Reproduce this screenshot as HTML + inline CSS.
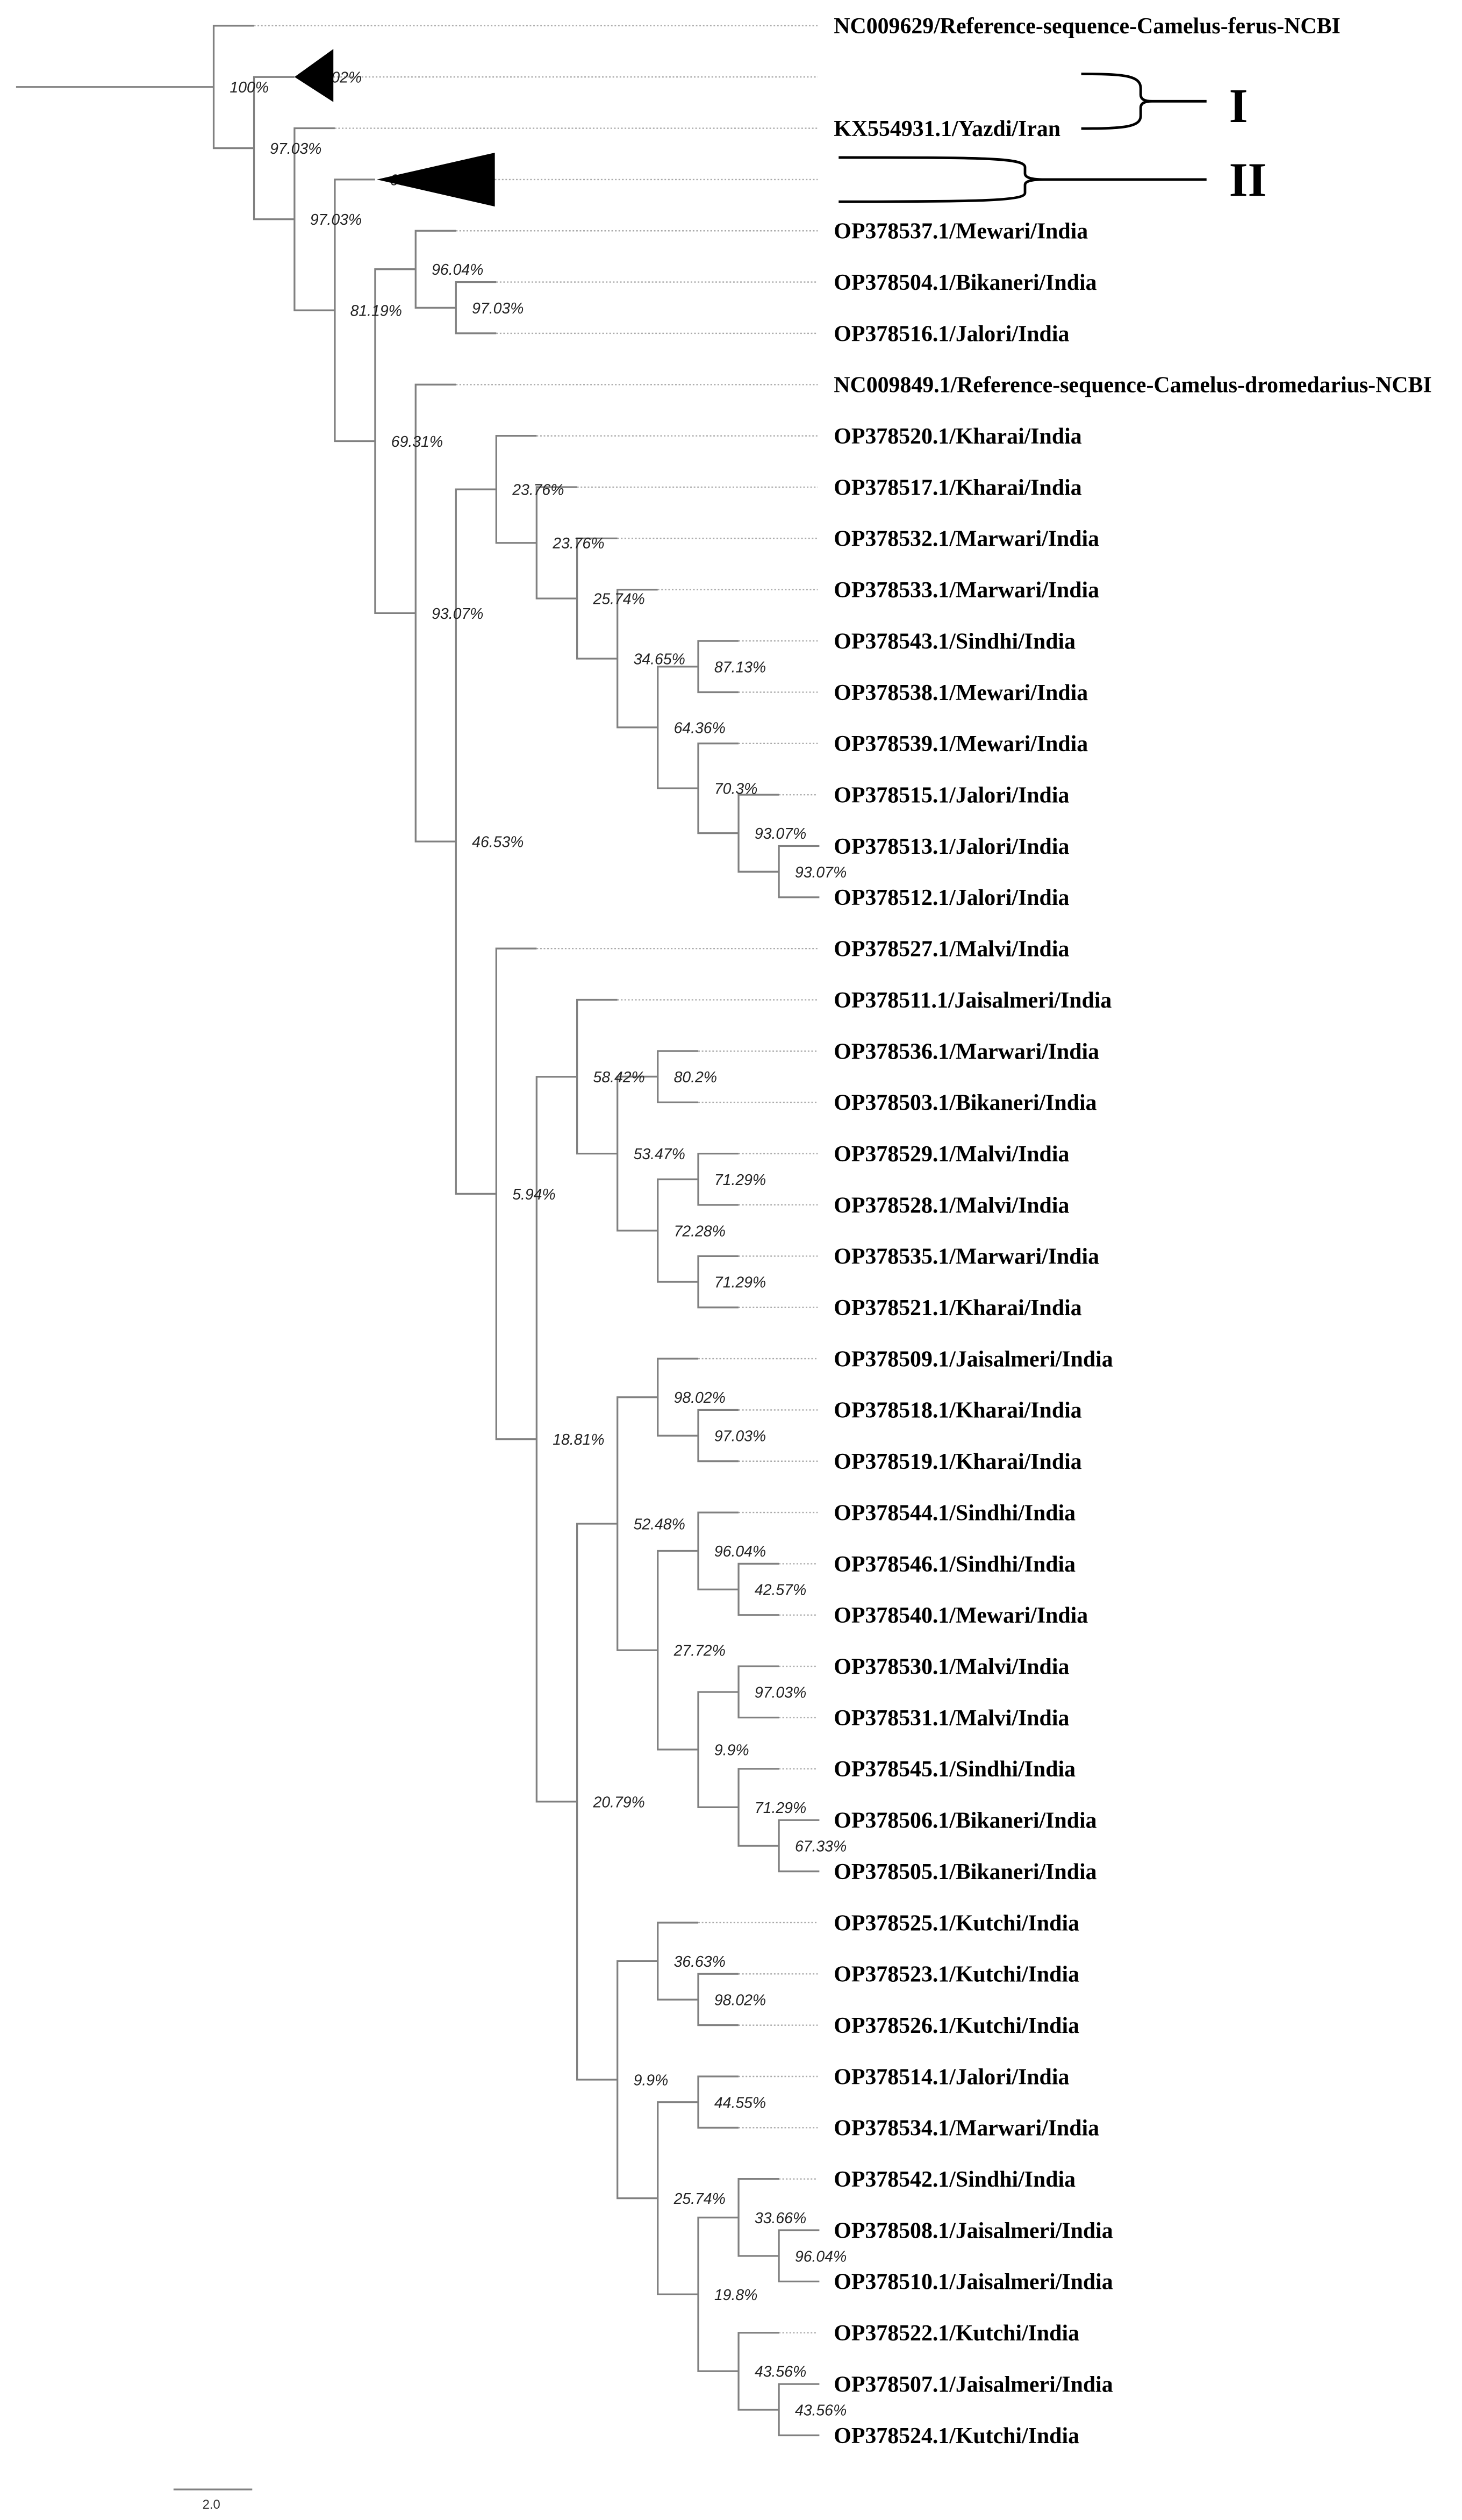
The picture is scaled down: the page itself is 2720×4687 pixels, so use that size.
<!DOCTYPE html>
<html><head><meta charset="utf-8"><style>
html,body{margin:0;padding:0;background:#fff;}
svg{display:block;}
.n{font-family:"Liberation Serif",serif;font-weight:bold;font-size:14px;fill:#000;}
.b{font-family:"Liberation Sans",sans-serif;font-style:italic;font-size:9.5px;fill:#222;}
</style></head><body>
<svg width="2720" height="4687" viewBox="0 0 910 1568" preserveAspectRatio="none" xmlns="http://www.w3.org/2000/svg">
<rect width="910" height="1568" fill="#fff"/>
<!-- dotted tips -->
<g stroke="#aaa" stroke-width="0.8" stroke-dasharray="1,1.2" fill="none">
<path d="M158.1 16H509M207.5 47.9H509M208.4 79.8H509M308 111.7H509M283.8 143.6H509M308.9 175.5H509M308.9 207.4H509M283.8 239.3H509M334 271.2H509M359.2 303.1H509M384.3 335H509M409.4 366.9H509M459.7 398.8H509M459.7 430.7H509M459.7 462.6H509M484.8 494.5H509M334 590.2H509M384.3 622.1H509M434.6 654H509M434.6 685.9H509M459.7 717.8H509M459.7 749.7H509M459.7 781.6H509M459.7 813.5H509M434.6 845.4H509M459.7 877.3H509M459.7 909.2H509M459.7 941.1H509M484.8 973H509M484.8 1004.9H509M484.8 1036.8H509M484.8 1068.7H509M484.8 1100.6H509M434.6 1196.3H509M459.7 1228.2H509M459.7 1260.1H509M459.7 1292H509M459.7 1323.9H509M484.8 1355.8H509M484.8 1451.5H509"/>
</g>
<!-- bootstrap labels under triangles -->
<text class="b" x="193" y="51.4">97.02%</text>
<text class="b" x="243" y="115.2">99%</text>
<!-- tree -->
<g stroke="#808080" stroke-width="1.1" fill="none">
<path d="M10 54.1H133
M158.1 16H133V92.2H158.1
M183.3 47.9H158.1V136.4H183.3
M208.4 79.8H183.3V193.1H208.4
M233.5 111.7H208.4V274.5H233.5
M258.7 167.5H233.5V381.5H258.7
M283.8 143.6H258.7V191.5H283.8
M308.9 175.5H283.8V207.4H308.9
M283.8 239.3H258.7V523.6H283.8
M308.9 304.5H283.8V742.8H308.9
M334 271.2H308.9V337.8H334
M359.2 303.1H334V372.4H359.2
M384.3 335H359.2V409.8H384.3
M409.4 366.9H384.3V452.6H409.4
M434.6 414.8H409.4V490.5H434.6
M459.7 398.8H434.6V430.7H459.7
M459.7 462.6H434.6V518.4H459.7
M484.8 494.5H459.7V542.4H484.8
M510 526.4H484.8V558.3H510
M334 590.2H308.9V895.5H334
M359.2 670H334V1121H359.2
M384.3 622.1H359.2V717.8H384.3
M409.4 669.9H384.3V765.7H409.4
M434.6 654H409.4V685.9H434.6
M434.6 733.8H409.4V797.6H434.6
M459.7 717.8H434.6V749.7H459.7
M459.7 781.6H434.6V813.5H459.7
M384.3 948.1H359.2V1294H384.3
M409.4 869.4H384.3V1026.8H409.4
M434.6 845.4H409.4V893.3H434.6
M459.7 877.3H434.6V909.2H459.7
M434.6 965H409.4V1088.6H434.6
M459.7 941.1H434.6V989H459.7
M484.8 973H459.7V1004.9H484.8
M459.7 1052.8H434.6V1124.5H459.7
M484.8 1036.8H459.7V1068.7H484.8
M484.8 1100.6H459.7V1148.5H484.8
M510 1132.5H484.8V1164.4H510
M409.4 1220.2H384.3V1367.8H409.4
M434.6 1196.3H409.4V1244.2H434.6
M459.7 1228.2H434.6V1260.1H459.7
M434.6 1308H409.4V1427.6H434.6
M459.7 1292H434.6V1323.9H459.7
M459.7 1379.8H434.6V1475.4H459.7
M484.8 1355.8H459.7V1403.7H484.8
M510 1387.7H484.8V1419.6H510
M484.8 1451.5H459.7V1499.4H484.8
M510 1483.4H484.8V1515.3H510
M108 1549H157"/>
</g>
<!-- collapsed triangles -->
<polygon points="183.3,47.9 207.5,30.5 207.5,63.5" fill="#000"/>
<polygon points="234.5,111.7 308,95 308,128.5" fill="#000"/>
<!-- bootstrap labels -->
<g class="b">
<text x="143" y="57.6">100%</text>
<text x="168" y="95.7">97.03%</text>
<text x="193" y="139.9">97.03%</text>
<text x="218" y="196.6">81.19%</text>
<text x="243.5" y="278">69.31%</text>
<text x="268.7" y="171">96.04%</text>
<text x="293.8" y="195">97.03%</text>
<text x="268.7" y="385">93.07%</text>
<text x="293.8" y="527.1">46.53%</text>
<text x="318.9" y="308">23.76%</text>
<text x="344" y="341.3">23.76%</text>
<text x="369.2" y="375.9">25.74%</text>
<text x="394.3" y="413.3">34.65%</text>
<text x="419.4" y="456.1">64.36%</text>
<text x="444.6" y="418.3">87.13%</text>
<text x="444.6" y="494">70.3%</text>
<text x="469.7" y="521.9">93.07%</text>
<text x="494.8" y="545.9">93.07%</text>
<text x="318.9" y="746.3">5.94%</text>
<text x="344" y="899">18.81%</text>
<text x="369.2" y="673.5">58.42%</text>
<text x="394.3" y="721.3">53.47%</text>
<text x="419.4" y="673.4">80.2%</text>
<text x="419.4" y="769.2">72.28%</text>
<text x="444.6" y="737.3">71.29%</text>
<text x="444.6" y="801.1">71.29%</text>
<text x="369.2" y="1124.5">20.79%</text>
<text x="394.3" y="951.6">52.48%</text>
<text x="419.4" y="872.9">98.02%</text>
<text x="444.6" y="896.8">97.03%</text>
<text x="419.4" y="1030.3">27.72%</text>
<text x="444.6" y="968.5">96.04%</text>
<text x="469.7" y="992.5">42.57%</text>
<text x="444.6" y="1092.1">9.9%</text>
<text x="469.7" y="1056.3">97.03%</text>
<text x="469.7" y="1128">71.29%</text>
<text x="494.8" y="1152">67.33%</text>
<text x="394.3" y="1297.5">9.9%</text>
<text x="419.4" y="1223.7">36.63%</text>
<text x="444.6" y="1247.7">98.02%</text>
<text x="419.4" y="1371.3">25.74%</text>
<text x="444.6" y="1311.5">44.55%</text>
<text x="444.6" y="1431.1">19.8%</text>
<text x="469.7" y="1383.3">33.66%</text>
<text x="494.8" y="1407.2">96.04%</text>
<text x="469.7" y="1478.9">43.56%</text>
<text x="494.8" y="1502.9">43.56%</text>
</g>
<!-- names -->
<g class="n">
<text x="519" y="20.8">NC009629/Reference-sequence-Camelus-ferus-NCBI</text>
<text x="519" y="84.6">KX554931.1/Yazdi/Iran</text>
<text x="519" y="148.4">OP378537.1/Mewari/India</text>
<text x="519" y="180.3">OP378504.1/Bikaneri/India</text>
<text x="519" y="212.2">OP378516.1/Jalori/India</text>
<text x="519" y="244.1">NC009849.1/Reference-sequence-Camelus-dromedarius-NCBI</text>
<text x="519" y="276">OP378520.1/Kharai/India</text>
<text x="519" y="307.9">OP378517.1/Kharai/India</text>
<text x="519" y="339.8">OP378532.1/Marwari/India</text>
<text x="519" y="371.7">OP378533.1/Marwari/India</text>
<text x="519" y="403.6">OP378543.1/Sindhi/India</text>
<text x="519" y="435.5">OP378538.1/Mewari/India</text>
<text x="519" y="467.4">OP378539.1/Mewari/India</text>
<text x="519" y="499.3">OP378515.1/Jalori/India</text>
<text x="519" y="531.2">OP378513.1/Jalori/India</text>
<text x="519" y="563.1">OP378512.1/Jalori/India</text>
<text x="519" y="595">OP378527.1/Malvi/India</text>
<text x="519" y="626.9">OP378511.1/Jaisalmeri/India</text>
<text x="519" y="658.8">OP378536.1/Marwari/India</text>
<text x="519" y="690.7">OP378503.1/Bikaneri/India</text>
<text x="519" y="722.6">OP378529.1/Malvi/India</text>
<text x="519" y="754.5">OP378528.1/Malvi/India</text>
<text x="519" y="786.4">OP378535.1/Marwari/India</text>
<text x="519" y="818.3">OP378521.1/Kharai/India</text>
<text x="519" y="850.2">OP378509.1/Jaisalmeri/India</text>
<text x="519" y="882.1">OP378518.1/Kharai/India</text>
<text x="519" y="914">OP378519.1/Kharai/India</text>
<text x="519" y="945.9">OP378544.1/Sindhi/India</text>
<text x="519" y="977.8">OP378546.1/Sindhi/India</text>
<text x="519" y="1009.7">OP378540.1/Mewari/India</text>
<text x="519" y="1041.6">OP378530.1/Malvi/India</text>
<text x="519" y="1073.5">OP378531.1/Malvi/India</text>
<text x="519" y="1105.4">OP378545.1/Sindhi/India</text>
<text x="519" y="1137.3">OP378506.1/Bikaneri/India</text>
<text x="519" y="1169.2">OP378505.1/Bikaneri/India</text>
<text x="519" y="1201.1">OP378525.1/Kutchi/India</text>
<text x="519" y="1233">OP378523.1/Kutchi/India</text>
<text x="519" y="1264.9">OP378526.1/Kutchi/India</text>
<text x="519" y="1296.8">OP378514.1/Jalori/India</text>
<text x="519" y="1328.7">OP378534.1/Marwari/India</text>
<text x="519" y="1360.6">OP378542.1/Sindhi/India</text>
<text x="519" y="1392.5">OP378508.1/Jaisalmeri/India</text>
<text x="519" y="1424.4">OP378510.1/Jaisalmeri/India</text>
<text x="519" y="1456.3">OP378522.1/Kutchi/India</text>
<text x="519" y="1488.2">OP378507.1/Jaisalmeri/India</text>
<text x="519" y="1520.1">OP378524.1/Kutchi/India</text>
</g>
<!-- brackets -->
<g stroke="#000" stroke-width="1.6" fill="none">
<path d="M673 46C700 46 710 47 710 55L710 59Q710 63 717 63Q710 63 710 67L710 72C710 79 700 80 673 80M717 63H751"/>
<path d="M522 98C610 98 638 98 638 104L638 108Q638 111.7 650 111.7Q638 111.7 638 115L638 120C638 125 610 125.5 522 125.5M650 111.7H751"/>
</g>
<text x="765" y="76" style="font-family:'Liberation Serif',serif;font-weight:bold;font-size:30px;">I</text>
<text x="765" y="122" style="font-family:'Liberation Serif',serif;font-weight:bold;font-size:30px;">II</text>
<text x="126" y="1561" style="font-family:'Liberation Sans',sans-serif;font-size:8px;fill:#333;">2.0</text>
</svg>
</body></html>
